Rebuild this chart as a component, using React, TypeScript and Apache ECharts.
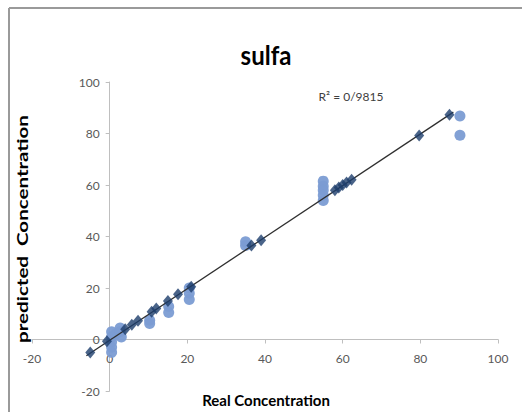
import React, { useEffect, useRef } from "react";
import * as echarts from "echarts";

// Dark diamonds (on the fitted line)
const diamondX = [-5, -0.7, 4, 5.7, 7.3, 10.8, 12, 15, 17.6, 21, 36.5, 39, 58, 59, 60, 61, 62.3, 79.7, 87.5];
const diamondY = [-5, -0.7, 4, 5.7, 7.3, 10.8, 12, 15, 17.6, 20.5, 36.5, 38.5, 58, 59, 60, 61, 62, 79.2, 87.3];

// Light circles (observations)
const circleX = [0.5, 0.5, 0.5, 0.5, 0.5, 1.5, 2.7, 2.7, 3, 10.3, 10.3, 15.2, 15.2, 20.5, 20.5, 20.5, 35, 35, 55, 55, 55, 55, 55, 90.2, 90.2];
const circleY = [3, 1, -1, -3, -5, 2, 4.5, 3, 1, 7.5, 6.2, 12.8, 10.5, 20, 18, 15.5, 38, 36.5, 61.5, 59.5, 58, 56, 54, 86.8, 79.3];

// Trendline end points
const trendX = [-6, 88.5];
const trendY = [-6.3, 88.3];

const axisTicks = { min: -20, max: 100, interval: 20 };
const titleText = "sulfa";
const r2Text = "R² = 0/9815";
const xName = "Real Concentration";
const yName = "predicted  Concentration";

export default function App() {
  const ref = useRef<HTMLDivElement>(null);
  useEffect(() => {
    if (!ref.current) return;
    const chart = echarts.init(ref.current, null, { renderer: "svg" });
    const font = "Lato, 'Open Sans', sans-serif";
    const gLeft = 32, gRight = 24, gTop = 82, gBottom = 21;
    const W = 522, H = 412;
    const pxPerX = (W - gLeft - gRight) / (axisTicks.max - axisTicks.min);
    const pxPerY = (H - gTop - gBottom) / (axisTicks.max - axisTicks.min);
    const yAxisOffset = -(0 - axisTicks.min) * pxPerX;
    const xAxisOffset = -(0 - axisTicks.min) * pxPerY;
    const axisCommon = {
      type: "value",
      min: axisTicks.min,
      max: axisTicks.max,
      interval: axisTicks.interval,
      splitLine: { show: false },
      axisLine: { show: true, onZero: false, lineStyle: { color: "#BFBFBF", width: 1 } },
      axisTick: { show: true, length: 4, lineStyle: { color: "#BFBFBF" } },
      axisLabel: { color: "#595959", fontSize: 12, fontFamily: font },
    };
    chart.setOption({
      animation: false,
      backgroundColor: "#ffffff",
      grid: { left: gLeft, right: gRight, top: gTop, bottom: gBottom, containLabel: false },
      xAxis: { ...axisCommon, position: "bottom", offset: xAxisOffset, axisLabel: { ...axisCommon.axisLabel, margin: 13 } },
      yAxis: { ...axisCommon, position: "left", offset: yAxisOffset, axisLabel: { ...axisCommon.axisLabel, margin: 10 } },
      series: [
        {
          type: "line",
          data: trendX.map((x, i) => [x, trendY[i]]),
          symbol: "none",
          lineStyle: { color: "#2f2f2f", width: 1.3 },
          z: 3,
        },
        {
          type: "scatter",
          data: circleX.map((x, i) => [x, circleY[i]]),
          symbol: "circle",
          symbolSize: 11,
          itemStyle: { color: "#7B9CD3", opacity: 0.95 },
          z: 2,
        },
        {
          type: "scatter",
          data: diamondX.map((x, i) => [x, diamondY[i]]),
          symbol: "diamond",
          symbolSize: [10, 12],
          itemStyle: { color: "#1D3D6B" },
          z: 4,
        },
      ],
      graphic: [
        { type: "line", shape: { x1: 9, y1: 8, x2: 522, y2: 8 }, style: { stroke: "#9a9a9a", lineWidth: 2 } },
        { type: "line", shape: { x1: 9, y1: 8, x2: 9, y2: 412 }, style: { stroke: "#9a9a9a", lineWidth: 2 } },
        {
          type: "text",
          x: 266,
          y: 55,
          scaleY: 1.1,
          style: { text: titleText, font: `bold 24px ${font}`, fill: "#000", textAlign: "center", textVerticalAlign: "middle" },
        },
        {
          type: "text",
          x: 351,
          y: 96,
          style: { text: r2Text, font: `12px ${font}`, fill: "#404040", textAlign: "center", textVerticalAlign: "middle" },
        },
        {
          type: "text",
          x: 266,
          y: 400,
          style: { text: xName, font: `bold 15px ${font}`, fill: "#000", textAlign: "center", textVerticalAlign: "middle" },
        },
        {
          type: "text",
          x: 22,
          y: 229,
          rotation: Math.PI / 2,
          scaleX: 1.37,
          style: { text: yName, font: `bold 15px ${font}`, fill: "#000", textAlign: "center", textVerticalAlign: "middle" },
        },
      ],
    });
    return () => chart.dispose();
  }, []);
  return <div ref={ref} style={{ position: "fixed", left: 0, top: 0, width: 522, height: 412 }} />;
}
